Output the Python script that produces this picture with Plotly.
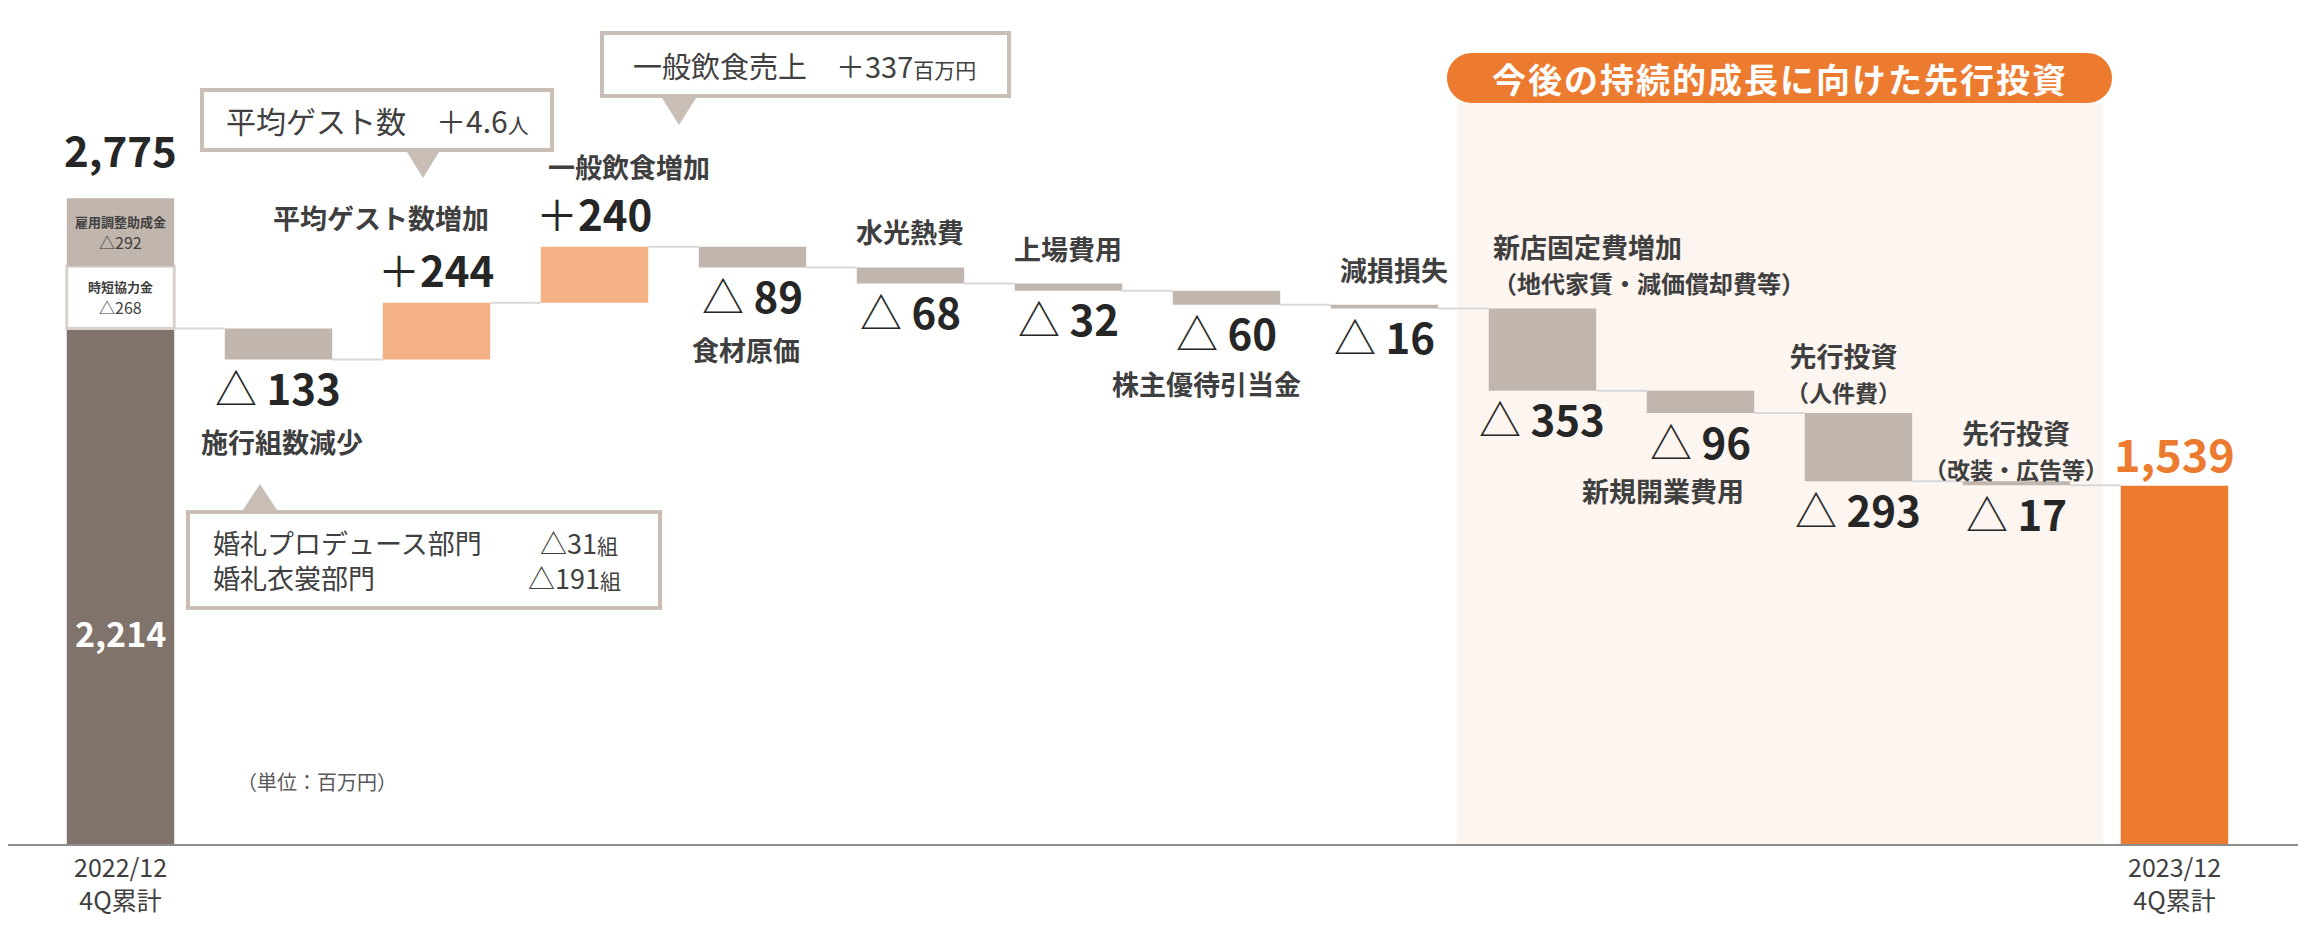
import plotly.graph_objects as go

# ------------------------------------------------------------------ data
period_labels = ["2022/12<br>4Q累計", "2023/12<br>4Q累計"]
start_display_total = 2775          # label above the first column
start_value = 2214                  # 2022/12 4Q累計 (dark part)
jitan_value = 268                   # 時短協力金
koyou_value = 292                   # 雇用調整助成金
step_names = ["施行組数減少", "平均ゲスト数増加", "一般飲食増加", "食材原価", "水光熱費",
              "上場費用", "株主優待引当金", "減損損失", "新店固定費増加", "新規開業費用",
              "先行投資", "先行投資"]
step_subnames = ["", "", "", "", "", "", "", "", "（地代家賃・減価償却費等）", "",
                 "（人件費）", "（改装・広告等）"]
step_values = [-133, 244, 240, -89, -68, -32, -60, -16, -353, -96, -293, -17]
end_value = 1539
header_text = "今後の持続的成長に向けた先行投資"
unit_text = "（単位：百万円）"
callout_guest = ("平均ゲスト数　＋4.6", "人")
callout_food = ("一般飲食売上　＋337", "百万円")
callout_count_rows = [("婚礼プロデュース部門", "△31", "組"), ("婚礼衣裳部門", "△191", "組")]

# ------------------------------------------------------------------ style
FONT = "Noto Sans CJK JP, Noto Sans, sans-serif"
C_DARK = "#80736b"
C_GRAY = "#c1b6ad"
C_UP = "#f4b183"
C_END = "#ed7b2f"
C_TXT = "#262626"
C_LBL = "#3f3f3f"
C_BOX = "#c8beb6"
C_CONN = "#d9d9d9"
C_SHADE = "#fdf5f0"
BAR_W = 0.68

# figure geometry (page pixels -> paper)
FIG_W, FIG_H = 2294, 909
PL, PW, PB, PH = 8, 2290, 844, 836
Y_MAX = 3591


def xp(x):
    return (x - PL) / PW


def yp(y):
    return (PB - y) / PH


# ------------------------------------------------------------------ derived levels
levels = [start_value]
for v in step_values:
    levels.append(levels[-1] + v)
n = len(step_values)
step_x = list(range(1, n + 1))
end_x = n + 1
step_base = [min(levels[i], levels[i + 1]) for i in range(n)]
step_top = [max(levels[i], levels[i + 1]) for i in range(n)]
step_h = [abs(v) for v in step_values]
step_colors = [C_UP if v > 0 else C_GRAY for v in step_values]

fig = go.Figure()

# first column (stacked)
fig.add_trace(go.Bar(x=[0], y=[start_value], base=[0], width=BAR_W,
                     marker=dict(color=C_DARK, line=dict(width=0)), hoverinfo="skip"))
fig.add_trace(go.Bar(x=[0], y=[jitan_value], base=[start_value], width=BAR_W,
                     marker=dict(color="white", line=dict(color="#d8d1cb", width=3)),
                     hoverinfo="skip"))
fig.add_trace(go.Bar(x=[0], y=[koyou_value], base=[start_value + jitan_value], width=BAR_W,
                     marker=dict(color=C_GRAY, line=dict(width=0)), hoverinfo="skip"))

# steps
fig.add_trace(go.Bar(x=step_x, y=step_h, base=step_base, width=BAR_W,
                     marker=dict(color=step_colors, line=dict(width=0)), hoverinfo="skip"))
# final column
fig.add_trace(go.Bar(x=[end_x], y=[end_value], base=[0], width=BAR_W,
                     marker=dict(color=C_END, line=dict(width=0)), hoverinfo="skip"))

# connectors
cx, cy = [], []
for i in range(n + 1):
    cx += [i + BAR_W / 2, i + 1 - BAR_W / 2, None]
    cy += [levels[i], levels[i], None]
fig.add_trace(go.Scatter(x=cx, y=cy, mode="lines", line=dict(color=C_CONN, width=2),
                         hoverinfo="skip"))

annotations = []


def ann(text, x, y, size, color=C_TXT, xref="paper", yref="paper", xanchor="center",
        yanchor="middle", xshift=0, yshift=0, align="center"):
    annotations.append(dict(text=text, x=x, y=y, xref=xref, yref=yref, xanchor=xanchor,
                            yanchor=yanchor, xshift=xshift, yshift=yshift, showarrow=False,
                            align=align, borderpad=0,
                            font=dict(family=FONT, size=size, color=color)))


# first column labels
ann("<b>{:,}</b>".format(start_display_total), 0, start_value + jitan_value + koyou_value, 42,
    xref="x", yref="y", yshift=50)
ann("<b>{:,}</b>".format(start_value), 0, start_value * 0.41, 34, color="white",
    xref="x", yref="y")
seg_mid_jitan = start_value + jitan_value / 2
seg_mid_koyou = start_value + jitan_value + koyou_value / 2
ann("<b>時短協力金</b>", 0, seg_mid_jitan, 13, color="#404040", xref="x", yref="y", yshift=11)
ann("△{}".format(jitan_value), 0, seg_mid_jitan, 16, color="#404040", xref="x", yref="y",
    yshift=-10)
ann("<b>雇用調整助成金</b>", 0, seg_mid_koyou, 13, color="#404040", xref="x", yref="y",
    yshift=11)
ann("△{}".format(koyou_value), 0, seg_mid_koyou, 16, color="#404040", xref="x", yref="y",
    yshift=-10)

# final column label
ann("<b>{:,}</b>".format(end_value), end_x, end_value, 45, color=C_END, xref="x", yref="y",
    yshift=33)

# period labels under first / last column
for xi, lbl in zip([0, end_x], period_labels):
    ann(lbl, xi, yp(882), 25, color="#404040", xref="x")

# step value labels
for i, v in enumerate(step_values):
    if v < 0:
        ann("△ <b>{}</b>".format(abs(v)), step_x[i], step_base[i], 42, xref="x", yref="y",
            yshift=-27)
    else:
        ann("＋<b>{}</b>".format(v), step_x[i], step_top[i], 42, xref="x", yref="y", yshift=34)

# step category labels: (side, offset px, anchor, x offset in data, xshift, sub font)
cat_layout = [
    ("below", 82, "center", 0, 4, 0),
    ("above", 85, "right", BAR_W / 2, 0, 0),
    ("above", 80, "left", -BAR_W / 2 + 0.04, 0, 0),
    ("below", 82, "center", 0, -6, 0),
    ("above", 36, "center", 0, 0, 0),
    ("above", 35, "center", 0, 0, 0),
    ("below", 79, "center", 0, -20, 0),
    ("above", 35, "center", 0, 10, 0),
    ("above", 45, "left", -BAR_W / 2 + 0.02, 0, 24),
    ("below", 77, "center", 0, -37, 0),
    ("above", 41, "center", 0, -15, 23),
    ("above", 32, "center", 0, 0, 23),
]
for i, name in enumerate(step_names):
    side, off, anc, dx, xs, fs2 = cat_layout[i]
    txt = "<b>{}</b>".format(name)
    if step_subnames[i]:
        txt += "<br><span style='font-size:{}px'><b>{}</b></span>".format(fs2, step_subnames[i])
    if side == "above":
        ann(txt, step_x[i] + dx, step_top[i], 27, color=C_LBL, xref="x", yref="y",
            xanchor=anc, xshift=xs, yshift=off, align=anc if anc != "right" else "right")
    else:
        ann(txt, step_x[i] + dx, step_base[i], 27, color=C_LBL, xref="x", yref="y",
            xanchor=anc, xshift=xs, yshift=-off)

# unit
ann(unit_text, xp(317), yp(781), 20, color="#595959")

# header
ann("<span style='letter-spacing:2px'><b>{}</b></span>".format(header_text), xp(1780),
    yp(79), 34, color="white")

# callouts
ann("{}<span style='font-size:21px'>{}</span>".format(*callout_guest), xp(377), yp(120), 30,
    color="#404040")
ann("{}<span style='font-size:21px'>{}</span>".format(*callout_food), xp(804), yp(65), 29,
    color="#404040")
row_y = [542, 577]
row_right = [619, 622]
for (lbl, val, unit), ry, rr in zip(callout_count_rows, row_y, row_right):
    ann(lbl, xp(212), yp(ry), 27, color="#404040", xanchor="left")
    ann("{}<span style='font-size:21px'>{}</span>".format(val, unit), xp(rr), yp(ry), 27,
        color="#404040", xanchor="right")

# ------------------------------------------------------------------ shapes
shapes = []
# shaded investment area
shapes.append(dict(type="rect", xref="paper", yref="paper", x0=xp(1457), x1=xp(2103),
                   y0=0, y1=yp(103), fillcolor=C_SHADE, line=dict(width=0),
                   layer="below"))


def pill(x0, y0, x1, y1):
    r = (y1 - y0) / 2
    k = 0.5523 * r
    pts = [
        ("M", [(x0 + r, y0)]),
        ("L", [(x1 - r, y0)]),
        ("C", [(x1 - r + k, y0), (x1, y0 + r - k), (x1, y0 + r)]),
        ("C", [(x1, y0 + r + k), (x1 - r + k, y1), (x1 - r, y1)]),
        ("L", [(x0 + r, y1)]),
        ("C", [(x0 + r - k, y1), (x0, y0 + r + k), (x0, y0 + r)]),
        ("C", [(x0, y0 + r - k), (x0 + r - k, y0), (x0 + r, y0)]),
    ]
    s = ""
    for cmd, pl in pts:
        s += cmd + " " + " ".join("{:.5f},{:.5f}".format(xp(a), yp(b)) for a, b in pl) + " "
    return s + "Z"


shapes.append(dict(type="path", xref="paper", yref="paper", path=pill(1447, 53, 2112, 103),
                   fillcolor=C_END, line=dict(width=0)))


def tri(p1, p2, p3):
    return "M {:.5f},{:.5f} L {:.5f},{:.5f} L {:.5f},{:.5f} Z".format(
        xp(p1[0]), yp(p1[1]), xp(p2[0]), yp(p2[1]), xp(p3[0]), yp(p3[1]))


def box(x0, y0, x1, y1):
    shapes.append(dict(type="rect", xref="paper", yref="paper", x0=xp(x0), x1=xp(x1),
                       y0=yp(y1), y1=yp(y0), fillcolor="white",
                       line=dict(color=C_BOX, width=4)))


box(202, 90, 552, 150)
shapes.append(dict(type="path", xref="paper", yref="paper",
                   path=tri((407, 152), (439, 152), (423, 178)), fillcolor=C_BOX,
                   line=dict(width=0)))
box(602, 33, 1009, 96)
shapes.append(dict(type="path", xref="paper", yref="paper",
                   path=tri((662, 98), (696, 98), (679, 125)), fillcolor=C_BOX,
                   line=dict(width=0)))
box(188, 512, 660, 608)
shapes.append(dict(type="path", xref="paper", yref="paper",
                   path=tri((243, 510), (277, 510), (260, 484)), fillcolor=C_BOX,
                   line=dict(width=0)))

fig.update_layout(
    width=FIG_W, height=FIG_H, autosize=False,
    margin=dict(l=0, r=FIG_W - PW, t=0, b=FIG_H - PH, autoexpand=False),
    paper_bgcolor="white", plot_bgcolor="rgba(0,0,0,0)",
    barmode="overlay", showlegend=False,
    font=dict(family=FONT, color=C_TXT),
    xaxis=dict(range=[-0.712, 13.782], showticklabels=False, automargin=False,
               showline=True, linecolor="#8c8c8c", linewidth=2, showgrid=False,
               zeroline=False, ticks="", fixedrange=True),
    yaxis=dict(range=[0, Y_MAX], visible=False, showgrid=False, zeroline=False,
               automargin=False, fixedrange=True),
    annotations=annotations, shapes=shapes,
)

fig.write_html("out.html")
